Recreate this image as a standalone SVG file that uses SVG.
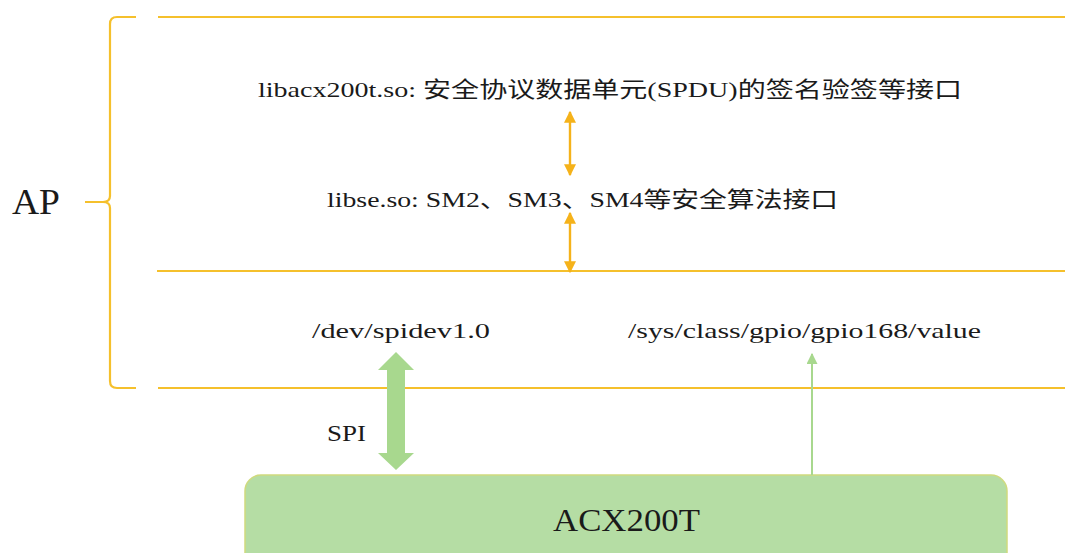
<svg xmlns="http://www.w3.org/2000/svg" width="1065" height="553" viewBox="0 0 1065 553">
<defs>
<style>
.t{font-family:"Liberation Serif","DejaVu Serif","Noto Sans CJK SC",serif;fill:#1a1a1a;}
.y{stroke:#F5C02C;stroke-width:2.2;fill:none;}
.o{stroke:#F5B21A;stroke-width:2.4;fill:none;}
</style>
<marker id="oa" viewBox="0 0 10 10" refX="9" refY="5" markerWidth="12" markerHeight="12" orient="auto-start-reverse" markerUnits="userSpaceOnUse">
<path d="M0,0 L10,5 L0,10 z" fill="#F5B21A"/>
</marker>
<marker id="ga" viewBox="0 0 10 10" refX="9" refY="5" markerWidth="11" markerHeight="11" orient="auto" markerUnits="userSpaceOnUse">
<path d="M0,0 L10,5 L0,10 z" fill="#A8D88E"/>
</marker>
</defs>
<rect width="1065" height="553" fill="#fff"/>
<g id="ap">
<path class="y" d="M136,17 L117,17 Q110,17 110,24 L110,196 Q110,202 103,202 L85,202 M103,202 Q110,202 110,208 L110,381 Q110,388 117,388 L136,388"/>
<text class="t" x="12" y="214" font-size="35" textLength="48" lengthAdjust="spacingAndGlyphs">AP</text>
</g>
<g id="layers">
<line class="y" x1="158" y1="17" x2="1065" y2="17"/>
<line class="y" x1="157" y1="271" x2="1065" y2="271"/>
<line class="y" x1="158" y1="388" x2="1065" y2="388"/>
</g>
<g id="libacx">
<text class="t" x="258" y="97" font-size="22" textLength="704" lengthAdjust="spacingAndGlyphs">libacx200t.so: 安全协议数据单元(SPDU)的签名验签等接口</text>
</g>
<g id="libse">
<text class="t" x="327" y="207" font-size="22" textLength="511" lengthAdjust="spacingAndGlyphs">libse.so: SM2、SM3、SM4等安全算法接口</text>
</g>
<g id="spidev">
<text class="t" x="312" y="338" font-size="22" textLength="178" lengthAdjust="spacingAndGlyphs">/dev/spidev1.0</text>
</g>
<g id="gpio">
<text class="t" x="628" y="338" font-size="22" textLength="353" lengthAdjust="spacingAndGlyphs">/sys/class/gpio/gpio168/value</text>
</g>
<g id="acx200t">
<rect x="245" y="475" width="762" height="95" rx="16" fill="#B5DDA4" stroke="#CFDA7E" stroke-width="1.5"/>
<text class="t" x="553" y="531" font-size="31" textLength="147" lengthAdjust="spacingAndGlyphs">ACX200T</text>
</g>
<g id="connectors">
<line class="o" x1="570" y1="112" x2="570" y2="175" marker-start="url(#oa)" marker-end="url(#oa)"/>
<line class="o" x1="570" y1="213" x2="570" y2="272" marker-start="url(#oa)" marker-end="url(#oa)"/>
<path d="M396,352 L414,370 L405,370 L405,453 L414,453 L396,470 L378,453 L387,453 L387,370 L378,370 Z" fill="#A8D88E"/>
<text class="t" x="327" y="441" font-size="23" textLength="39" lengthAdjust="spacingAndGlyphs">SPI</text>
<line x1="812" y1="475" x2="812" y2="354" stroke="#A8D88E" stroke-width="2" marker-end="url(#ga)"/>
</g>
</svg>
